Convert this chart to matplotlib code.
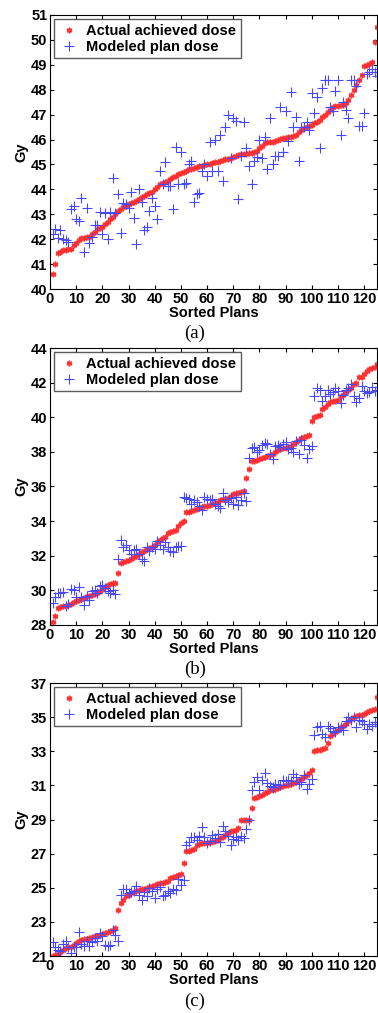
import matplotlib
matplotlib.use("Agg")
import matplotlib.pyplot as plt
import numpy as np

plans = np.arange(1, 126)

# panel (a)
actual_a = [
    40.6, 41.0, 41.45, 41.5, 41.55, 41.55, 41.6, 41.6, 41.75, 41.85,
    41.95, 42.05, 42.05, 42.1, 42.1, 42.2, 42.3, 42.4, 42.45, 42.5,
    42.6, 42.7, 42.8, 42.9, 43.0, 43.15, 43.2, 43.3, 43.35, 43.4,
    43.45, 43.5, 43.55, 43.6, 43.7, 43.75, 43.8, 43.85, 43.9, 44.0,
    44.1, 44.2, 44.25, 44.3, 44.35, 44.4, 44.5, 44.55, 44.6, 44.65,
    44.7, 44.75, 44.8, 44.82, 44.85, 44.9, 44.92, 44.95, 44.97, 45.0,
    45.02, 45.05, 45.08, 45.1, 45.13, 45.16, 45.2, 45.23, 45.27, 45.3,
    45.35, 45.37, 45.4, 45.4, 45.42, 45.45, 45.47, 45.5, 45.55, 45.65,
    45.75, 45.85, 45.9, 45.9, 45.92, 45.95, 46.0, 46.02, 46.05, 46.07,
    46.1, 46.12, 46.15, 46.2, 46.3, 46.4, 46.45, 46.5, 46.55, 46.6,
    46.65, 46.7, 46.8, 46.9, 47.0, 47.1, 47.2, 47.3, 47.35, 47.35,
    47.38, 47.4, 47.45, 47.6, 47.8, 48.0, 48.2, 48.4, 48.6, 48.95,
    49.0, 49.05, 49.1, 49.9, 50.5,
]
modeled_a = [
    42.2, 42.4, 42.05, 42.35, 42.0, 41.95, 41.9, 43.2, 43.35, 42.8,
    42.75, 43.65, 41.5, 43.25, 41.85, 42.1, 42.55, 42.55, 43.1, 42.2,
    43.05, 42.0, 43.1, 44.45, 43.05, 43.8, 42.25, 43.45, 43.4, 43.25,
    43.9, 42.85, 41.8, 44.0, 43.5, 42.35, 42.5, 43.15, 43.65, 43.35,
    42.8, 44.75, 44.2, 45.1, 44.15, 44.15, 43.2, 45.7, 44.2, 45.5,
    44.2, 44.25, 45.0, 45.15, 43.5, 43.8, 43.85, 44.75, 45.0, 44.55,
    45.9, 44.75, 46.0, 44.75, 46.2, 44.35, 46.5, 47.0, 45.25, 46.85,
    46.75, 43.6, 45.35, 46.7, 45.65, 44.95, 44.2, 45.15, 45.3, 46.0,
    45.25, 46.1, 44.8, 46.85, 45.0, 45.35, 45.35, 47.3, 45.5, 47.15,
    45.95, 47.9, 46.5, 46.9, 45.15, 46.5, 46.5, 46.7, 46.4, 47.85,
    47.05, 47.7, 45.65, 48.05, 48.4, 48.4, 47.3, 47.15, 47.95, 48.4,
    46.2, 47.5, 47.2, 46.85, 48.4, 48.4, 48.15, 46.55, 46.55, 47.05,
    48.65, 48.7, 48.85, 48.7, 48.55,
]

# panel (b)
actual_b = [
    28.15, 28.5, 29.0, 29.05, 29.1, 29.1, 29.15, 29.2, 29.3, 29.4,
    29.45, 29.5, 29.55, 29.65, 29.7, 29.75, 29.8, 29.85, 29.95, 30.1,
    30.2, 30.3, 30.35, 30.4, 30.45, 31.0, 31.6, 31.65, 31.7, 31.75,
    31.8, 31.9, 32.0, 32.1, 32.2, 32.3, 32.4, 32.45, 32.5, 32.6,
    32.8, 32.9, 33.0, 33.1, 33.3, 33.4, 33.45, 33.5, 33.7, 33.9,
    34.0, 34.5, 34.55, 34.6, 34.65, 34.7, 34.75, 34.8, 34.85, 34.9,
    34.95, 35.0, 35.05, 35.1, 35.2, 35.25, 35.3, 35.35, 35.45, 35.55,
    35.6, 35.65, 35.7, 35.75, 36.5, 37.0, 37.45, 37.5, 37.55, 37.6,
    37.65, 37.7, 37.75, 37.8, 37.85, 38.0, 38.1, 38.15, 38.2, 38.25,
    38.3, 38.35, 38.45, 38.55, 38.7, 38.8, 38.85, 38.9, 38.95, 39.8,
    40.0, 40.1, 40.15, 40.5, 40.6, 40.75, 40.9, 40.95, 40.95, 41.0,
    41.2, 41.3, 41.45, 41.55, 41.7, 41.9, 42.0, 42.3, 42.35, 42.5,
    42.7, 42.8, 42.85, 42.9, 43.1,
]
modeled_b = [
    29.25, 29.6, 29.85, 29.85, 29.9, 29.1, 29.2, 30.1, 30.0, 29.6,
    30.2, 29.6, 29.15, 29.65, 29.45, 29.95, 30.0, 29.85, 30.25, 30.3,
    30.15, 29.95, 29.85, 30.05, 29.8, 31.8, 32.9, 32.5, 32.6, 32.35,
    32.1, 32.35, 32.4, 32.1, 31.8, 31.7, 32.5, 32.3, 32.5, 32.4,
    32.85, 32.6, 32.4, 32.8, 32.5, 32.3, 32.2, 32.5, 32.55, 32.55,
    35.4, 35.35, 35.3, 35.0, 35.2, 35.1, 34.85, 34.65, 35.4, 35.3,
    35.2, 35.3, 35.0, 34.85, 34.75, 35.65, 35.2, 35.1, 35.35, 35.0,
    35.4, 34.95, 35.2, 35.6, 35.15, 37.65, 38.25, 38.3, 38.0, 38.1,
    38.4, 38.5, 38.45, 37.85, 37.6, 38.35, 38.4, 38.3, 38.45, 38.55,
    38.15, 38.2, 38.0, 38.6, 37.85, 38.7, 38.4, 37.65, 38.15, 38.35,
    41.25, 41.7, 41.6, 40.95, 41.2, 41.6, 41.35, 41.45, 41.7, 41.5,
    40.85, 41.3, 41.6, 41.7, 41.9, 41.2, 40.9, 41.1, 41.8, 41.5,
    41.4, 41.45, 41.75, 41.5, 41.6,
]

# panel (c)
actual_c = [
    21.0, 21.05, 21.1, 21.25, 21.35, 21.45, 21.5, 21.55, 21.65, 21.75,
    21.9, 21.95, 22.0, 22.0, 22.05, 22.1, 22.15, 22.2, 22.25, 22.3,
    22.35, 22.4, 22.45, 22.5, 22.65, 23.7, 24.1, 24.3, 24.5, 24.6,
    24.7, 24.75, 24.8, 24.85, 24.9, 24.95, 25.0, 25.05, 25.1, 25.15,
    25.2, 25.25, 25.3, 25.35, 25.4, 25.6, 25.65, 25.7, 25.75, 25.8,
    26.45, 27.15, 27.15, 27.2, 27.3, 27.5, 27.55, 27.6, 27.65, 27.65,
    27.7, 27.7, 27.75, 27.8, 27.9, 28.0, 28.1, 28.2, 28.3, 28.35,
    28.4, 28.5, 28.95, 29.0, 29.0, 29.0, 29.65, 30.25, 30.3, 30.35,
    30.45, 30.55, 30.6, 30.7, 30.75, 30.8, 30.85, 30.9, 30.95, 31.0,
    31.05, 31.1, 31.15, 31.2, 31.3, 31.4, 31.5, 31.6, 31.7, 31.9,
    33.0, 33.05, 33.1, 33.15, 33.2, 33.5, 33.9, 34.0, 34.1, 34.25,
    34.4, 34.5, 34.6, 34.8, 34.9, 35.0, 35.05, 35.1, 35.15, 35.2,
    35.3, 35.35, 35.4, 35.45, 36.2,
]
modeled_c = [
    21.8, 21.5, 21.35, 21.3, 21.7, 21.85, 21.5, 21.2, 21.55, 21.5,
    22.4, 21.7, 21.6, 21.9, 21.6, 21.8, 22.05, 21.9, 22.35, 22.2,
    21.65, 21.6, 21.65, 22.5, 22.25, 21.85, 24.6, 24.95, 24.9, 24.7,
    24.75, 24.8, 25.1, 24.6, 24.3, 24.75, 24.5, 25.0, 24.8, 24.4,
    24.95, 25.05, 24.5, 24.55, 24.8, 24.7, 24.9, 24.85, 25.5, 25.15,
    25.45, 27.5, 27.7, 28.0, 27.95, 27.8, 28.05, 28.55, 28.0, 27.65,
    27.75, 28.1, 27.9, 28.15, 27.7, 28.6, 28.35, 28.05, 27.5, 27.85,
    27.95, 27.8, 28.05, 27.9, 28.45, 28.95, 30.7, 31.2, 31.5, 30.7,
    31.3, 31.7, 31.15, 30.95, 30.9, 31.1, 31.05, 31.0, 31.3, 31.25,
    31.3, 31.25, 31.65, 31.5, 31.1, 31.2, 31.6, 30.8, 31.1, 31.4,
    33.95, 34.4, 34.5, 34.0, 33.85, 34.5, 34.35, 34.2, 34.1, 34.4,
    34.45, 34.25, 34.75, 35.0, 34.85, 35.0, 34.4, 34.85, 34.8, 34.6,
    34.3, 34.6, 34.5, 34.7, 34.6,
]

panels = [
    (actual_a, modeled_a, (40, 51), np.arange(40, 52, 1), "(a)"),
    (actual_b, modeled_b, (28, 44), np.arange(28, 45, 2), "(b)"),
    (actual_c, modeled_c, (21, 37), np.arange(21, 38, 2), "(c)"),
]
xticks = np.arange(0, 121, 10)

plt.rcParams["font.family"] = ["Liberation Sans", "DejaVu Sans"]
plt.rcParams["font.weight"] = "bold"

W, H = 378, 1013
fig = plt.figure(figsize=(W / 100, H / 100), dpi=100)

# axes boxes in pixels: top, bottom
boxes = [(15, 289), (348, 625), (683, 956)]
label_y = [333, 669, 1001]
xlab_y = [313, 649, 980]
fs = 10.5

for (actual, modeled, ylim, yticks, tag), (top, bot), ly, xy in zip(panels, boxes, label_y, xlab_y):
    ax = fig.add_axes([50 / W, 1 - bot / H, 1 - 50 / W - 0.002, (bot - top) / H])
    ax.plot(plans, actual, linestyle="none", marker=(6, 2, 0), markersize=4,
            markeredgewidth=1.1, color="#ff3030", label="Actual achieved dose")
    ax.plot(plans, modeled, linestyle="none", marker="+", markersize=7,
            markeredgewidth=0.8, color="#4848ff", label="Modeled plan dose")
    ax.set_xlim(0, 125)
    ax.set_ylim(*ylim)
    ax.set_xticks(xticks)
    ax.set_yticks(yticks)
    ax.tick_params(direction="in", top=True, right=True, length=3,
                   labelsize=fs, pad=2)
    for lab in ax.get_xticklabels() + ax.get_yticklabels():
        lab.set_fontweight("bold")
    ax.set_ylabel("Gy", fontsize=fs, fontweight="bold", labelpad=2)
    ax.legend(loc="upper left", frameon=True, fancybox=False,
              edgecolor="#333333", borderaxespad=0.3, handletextpad=0.5,
              borderpad=0.3, labelspacing=0.15, handlelength=1.4,
              prop={"weight": "bold", "size": fs})
    fig.text(0.5 * (50 / W + 1), 1 - xy / H, "Sorted Plans", ha="center",
             va="center", fontsize=fs, fontweight="bold")
    fig.text(195 / W, 1 - ly / H, tag, ha="center", va="center",
             fontsize=13.5, fontweight="normal", family="Liberation Serif")

fig.savefig("out.png", dpi=100)
